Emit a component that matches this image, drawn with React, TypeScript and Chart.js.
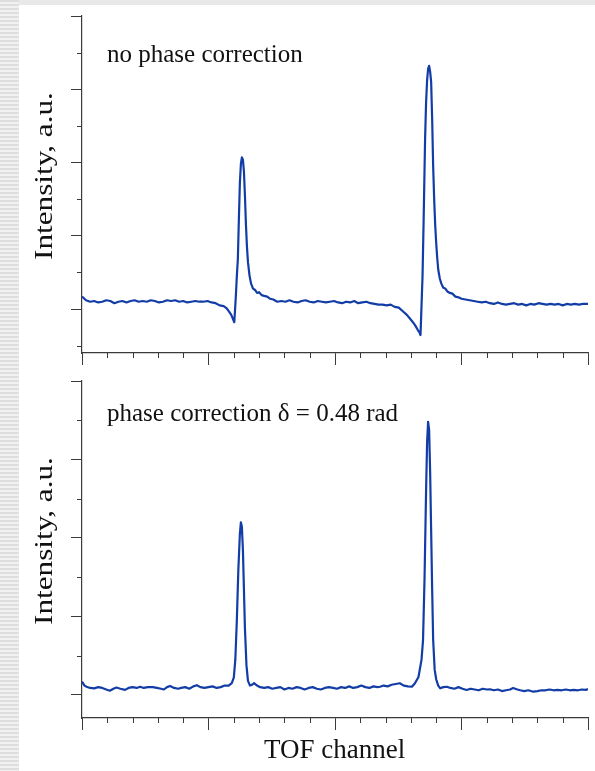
import React, { useEffect, useRef } from "react";
import { Chart, registerables } from "chart.js";

Chart.register(...registerables);

// ---- data ----
const channelMajorTicks = [0, 250, 500, 750, 1000];
const channelMinorTicks = [50, 100, 150, 200, 300, 350, 400, 450, 550, 600, 650, 700, 800, 850, 900, 950];
const intensityMajorTicks = [0, 1, 2, 3, 4];
const intensityMinorTicks = [-0.5, 0.5, 1.5, 2.5, 3.5];

const topChannels = [
  0, 8, 16, 24, 32, 40, 48, 56, 64, 72, 80, 88, 96, 104, 112, 120, 128, 136, 144, 152, 160, 168, 176, 184, 192, 200,
  208, 216, 224, 232, 240, 248, 256, 264, 272, 280, 286, 291, 295, 298, 301, 304, 306, 308, 310, 312, 314, 316, 318,
  320, 322, 324, 326, 328, 331, 334, 338, 342, 346, 350, 355, 360, 366, 372, 378, 386, 394, 402, 410, 418, 426, 434,
  442, 450, 458, 466, 474, 482, 490, 498, 506, 514, 522, 530, 538, 546, 554, 562, 570, 578, 586, 594, 602, 610, 618,
  626, 634, 642, 648, 654, 659, 664, 667, 669, 671, 673, 675, 678, 680, 682, 684, 686, 688, 690, 692, 694, 696, 698,
  700, 702, 704, 707, 710, 714, 718, 722, 727, 732, 738, 744, 750, 758, 766, 774, 782, 790, 798, 806, 814, 822, 830,
  838, 846, 854, 862, 870, 878, 886, 894, 902, 910, 918, 926, 934, 942, 950, 958, 966, 974, 982, 990, 1000,
];
const topIntensity = [
  0.17, 0.12, 0.1, 0.11, 0.09, 0.1, 0.12, 0.11, 0.08, 0.1, 0.11, 0.09, 0.11, 0.12, 0.1, 0.11, 0.1, 0.12, 0.11, 0.09,
  0.1, 0.12, 0.11, 0.12, 0.1, 0.11, 0.09, 0.1, 0.11, 0.1, 0.1, 0.11, 0.09, 0.08, 0.05, 0.04, 0.01, -0.04, -0.08, -0.13,
  -0.18, 0.17, 0.45, 0.68, 1.22, 1.72, 1.98, 2.07, 2.04, 1.88, 1.55, 1.15, 0.85, 0.64, 0.46, 0.35, 0.28, 0.26, 0.22,
  0.23, 0.19, 0.18, 0.17, 0.14, 0.13, 0.1, 0.11, 0.1, 0.12, 0.1, 0.09, 0.11, 0.12, 0.1, 0.09, 0.11, 0.1, 0.09, 0.1,
  0.11, 0.09, 0.08, 0.1, 0.09, 0.11, 0.08, 0.09, 0.1, 0.08, 0.07, 0.06, 0.06, 0.05, 0.06, 0.03, 0.02, -0.03, -0.08,
  -0.13, -0.18, -0.23, -0.29, -0.32, -0.355, 0.05, 0.45, 1.15, 2.31, 2.82, 3.12, 3.28, 3.32, 3.24, 3.1, 2.6, 1.95, 1.5,
  1.15, 0.9, 0.7, 0.54, 0.42, 0.35, 0.29, 0.28, 0.24, 0.22, 0.21, 0.17, 0.16, 0.14, 0.13, 0.12, 0.11, 0.1, 0.09, 0.1,
  0.08, 0.07, 0.09, 0.07, 0.06, 0.07, 0.08, 0.06, 0.07, 0.05, 0.07, 0.06, 0.08, 0.07, 0.06, 0.07, 0.06, 0.07, 0.05,
  0.07, 0.06, 0.07, 0.06, 0.07, 0.07,
];

const bottomChannels = [
  0, 5, 9, 16, 24, 32, 40, 48, 55, 62, 68, 76, 85, 92, 100, 108, 115, 122, 130, 140, 148, 156, 162, 168, 174, 182, 190,
  196, 204, 212, 220, 227, 234, 242, 250, 258, 266, 274, 282, 290, 296, 300, 303, 306, 309, 312, 314, 316, 318, 320,
  322, 325, 328, 332, 336, 340, 346, 352, 360, 368, 376, 384, 392, 400, 408, 416, 424, 432, 440, 448, 456, 464, 472,
  480, 488, 496, 504, 512, 520, 528, 536, 544, 552, 560, 568, 576, 584, 589, 596, 604, 612, 620, 628, 636, 644, 652,
  658, 665, 671, 674, 677, 680, 682, 684, 686, 688, 690, 692, 694, 697, 700, 704, 708, 714, 721, 728, 736, 744, 752,
  760, 768, 776, 784, 792, 800, 806, 814, 822, 830, 838, 846, 852, 859, 866, 874, 882, 892, 900, 908, 916, 924, 932,
  940, 948, 956, 964, 972, 980, 988, 996, 1000,
];
const bottomIntensity = [
  0.17, 0.12, 0.105, 0.09, 0.085, 0.1, 0.09, 0.07, 0.055, 0.08, 0.095, 0.08, 0.065, 0.09, 0.1, 0.09, 0.105, 0.09, 0.1,
  0.1, 0.09, 0.08, 0.07, 0.1, 0.115, 0.09, 0.08, 0.09, 0.1, 0.08, 0.11, 0.125, 0.1, 0.09, 0.1, 0.11, 0.09, 0.1, 0.12,
  0.12, 0.15, 0.22, 0.45, 0.95, 1.6, 2.05, 2.2, 2.14, 1.85, 1.35, 0.85, 0.38, 0.18, 0.12, 0.13, 0.15, 0.12, 0.1, 0.09,
  0.1, 0.08, 0.09, 0.1, 0.07, 0.09, 0.08, 0.1, 0.09, 0.07, 0.09, 0.1, 0.08, 0.07, 0.09, 0.1, 0.09, 0.08, 0.1, 0.09,
  0.11, 0.09, 0.1, 0.12, 0.1, 0.09, 0.11, 0.1, 0.105, 0.12, 0.11, 0.13, 0.14, 0.15, 0.12, 0.11, 0.105, 0.15, 0.23,
  0.45, 0.7, 1.5, 2.6, 3.22, 3.48, 3.38, 2.85, 2.1, 1.35, 0.7, 0.32, 0.2, 0.12, 0.085, 0.1, 0.105, 0.09, 0.08, 0.1,
  0.08, 0.064, 0.08, 0.07, 0.06, 0.08, 0.07, 0.073, 0.06, 0.07, 0.05, 0.06, 0.07, 0.09, 0.073, 0.06, 0.05, 0.06,
  0.042, 0.05, 0.06, 0.06, 0.07, 0.06, 0.065, 0.06, 0.07, 0.06, 0.065, 0.06, 0.07, 0.065, 0.075,
];

// ---- styles ----
const LINE_COLOR = "#133da6";
const AXIS_COLOR = "#3a3a3a";
const SERIF = '"Liberation Serif", "Times New Roman", serif';

const minorTickPlugin = {
  id: "minorTicks",
  afterDraw(chart: any) {
    const { ctx } = chart;
    const xs = chart.scales.x;
    const ys = chart.scales.y;
    ctx.save();
    ctx.strokeStyle = AXIS_COLOR;
    ctx.lineWidth = 1;
    for (const v of channelMinorTicks) {
      const px = Math.round(xs.getPixelForValue(v)) + 0.5;
      ctx.beginPath();
      ctx.moveTo(px, xs.top);
      ctx.lineTo(px, xs.top + 5);
      ctx.stroke();
    }
    for (const v of intensityMinorTicks) {
      if (v < ys.min || v > ys.max) continue;
      const py = Math.round(ys.getPixelForValue(v)) + 0.5;
      ctx.beginPath();
      ctx.moveTo(ys.right - 5, py);
      ctx.lineTo(ys.right, py);
      ctx.stroke();
    }
    ctx.restore();
  },
};

type PanelProps = {
  top: number;
  height: number;
  padTop: number;
  padBottom: number;
  yMin: number;
  xs: number[];
  ys: number[];
};

function Panel({ top, height, padTop, padBottom, yMin, xs, ys }: PanelProps) {
  const ref = useRef<HTMLCanvasElement | null>(null);
  useEffect(() => {
    if (!ref.current) return;
    const chart = new Chart(ref.current, {
      type: "line",
      data: {
        datasets: [
          {
            data: xs.map((x, i) => ({ x, y: ys[i] })),
            borderColor: LINE_COLOR,
            borderWidth: 2.2,
            pointRadius: 0,
            tension: 0,
            borderJoinStyle: "round",
            fill: false,
          },
        ],
      },
      options: {
        animation: false,
        responsive: false,
        events: [],
        layout: { padding: { left: 70, right: 7, top: padTop, bottom: padBottom } },
        plugins: { legend: { display: false }, tooltip: { enabled: false }, title: { display: false } },
        scales: {
          x: {
            type: "linear",
            min: 0,
            max: 1000,
            afterBuildTicks: (s: any) => {
              s.ticks = channelMajorTicks.map((v) => ({ value: v }));
            },
            afterFit: (s: any) => {
              s.height = 13;
            },
            ticks: { display: false },
            grid: { drawOnChartArea: false, drawTicks: true, tickLength: 12, tickColor: AXIS_COLOR, tickWidth: 1 },
            border: { display: true, color: AXIS_COLOR, width: 1.2 },
          },
          y: {
            type: "linear",
            min: yMin,
            max: 4,
            afterBuildTicks: (s: any) => {
              s.ticks = intensityMajorTicks.map((v) => ({ value: v }));
            },
            afterFit: (s: any) => {
              s.width = 12;
            },
            ticks: { display: false },
            grid: { drawOnChartArea: false, drawTicks: true, tickLength: 11, tickColor: AXIS_COLOR, tickWidth: 1 },
            border: { display: true, color: AXIS_COLOR, width: 1.2 },
          },
        },
      },
      plugins: [minorTickPlugin],
    } as any);
    return () => chart.destroy();
  }, []);
  return (
    <canvas
      ref={ref}
      width={595}
      height={height}
      style={{ position: "absolute", left: 0, top, width: 595, height }}
    />
  );
}

const textBase: React.CSSProperties = {
  position: "absolute",
  fontFamily: SERIF,
  color: "#111",
  lineHeight: 1,
  whiteSpace: "nowrap",
};

function YTitle({ cy }: { cy: number }) {
  return (
    <div
      style={{
        ...textBase,
        fontSize: 26,
        width: 200,
        height: 26,
        left: 44 - 100,
        top: cy - 13,
        textAlign: "center",
        transform: "rotate(-90deg) scaleX(1.2)",
      }}
    >
      Intensity, a.u.
    </div>
  );
}

export default function App() {
  return (
    <div
      style={{
        position: "fixed",
        left: 0,
        top: 0,
        width: 595,
        height: 771,
        background: "#ffffff",
        overflow: "hidden",
      }}
    >
      <div style={{ position: "absolute", left: 0, top: 0, width: 595, height: 5, background: "#e8e8e8" }} />
      <div
        style={{
          position: "absolute",
          left: 0,
          top: 0,
          width: 19,
          height: 771,
          background: "repeating-linear-gradient(to bottom, #dedede 0px, #dedede 2px, #f1f1f1 2px, #f1f1f1 4px)",
        }}
      />
      <Panel top={0} height={380} padTop={16} padBottom={14} yMin={-0.6} xs={topChannels} ys={topIntensity} />
      <Panel top={370} height={380} padTop={11} padBottom={19} yMin={-0.293} xs={bottomChannels} ys={bottomIntensity} />
      <div style={{ ...textBase, fontSize: 25, left: 107, top: 41 }}>no phase correction</div>
      <div style={{ ...textBase, fontSize: 25, left: 107, top: 400 }}>phase correction δ = 0.48 rad</div>
      <YTitle cy={176} />
      <YTitle cy={541} />
      <div style={{ ...textBase, fontSize: 27, width: 300, left: 334.7 - 150, top: 736, textAlign: "center" }}>
        TOF channel
      </div>
    </div>
  );
}
